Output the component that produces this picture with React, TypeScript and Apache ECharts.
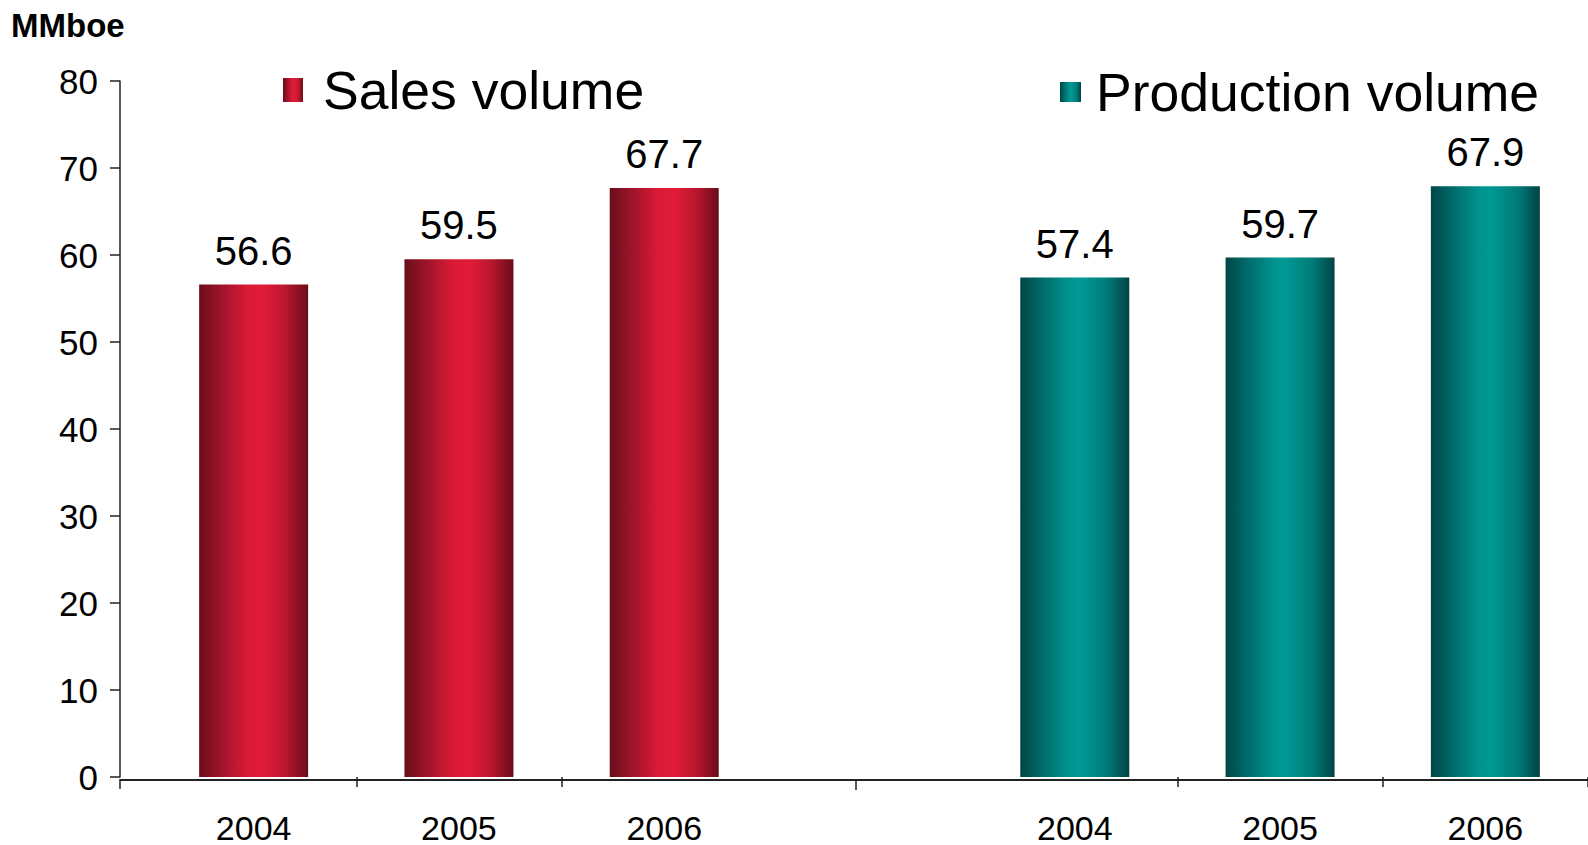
import React, { useEffect, useRef } from 'react';
import * as echarts from 'echarts';

const categories = ['2004', '2005', '2006', '', '2004', '2005', '2006'];
const salesVolume = [56.6, 59.5, 67.7, '-', '-', '-', '-'];
const productionVolume = ['-', '-', '-', '-', 57.4, 59.7, 67.9];
const seriesNames = ['Sales volume', 'Production volume'];
const unitLabel = 'MMboe';
const yMin = 0;
const yMax = 80;
const yStep = 10;

const FONT = '"Liberation Sans", Arial, Helvetica, sans-serif';

const redGradient = new echarts.graphic.LinearGradient(0, 0, 1, 0, [
  { offset: 0, color: '#6a0d1b' },
  { offset: 0.2, color: '#9c1429' },
  { offset: 0.45, color: '#dc1a36' },
  { offset: 0.6, color: '#e01b37' },
  { offset: 0.8, color: '#b8162e' },
  { offset: 1, color: '#680c19' },
]);

const tealGradient = new echarts.graphic.LinearGradient(0, 0, 1, 0, [
  { offset: 0, color: '#004646' },
  { offset: 0.2, color: '#006b6a' },
  { offset: 0.45, color: '#009490' },
  { offset: 0.55, color: '#009995' },
  { offset: 0.8, color: '#007a77' },
  { offset: 1, color: '#004343' },
]);

export default function App() {
  const ref = useRef<HTMLDivElement>(null);

  useEffect(() => {
    if (!ref.current) return;
    const chart = echarts.init(ref.current, null, { renderer: 'svg' });
    const labelStyle = {
      show: true,
      position: 'top',
      distance: 14,
      fontSize: 40,
      color: '#000',
      fontFamily: FONT,
    };
    chart.setOption({
      animation: false,
      backgroundColor: '#fff',
      title: {
        text: unitLabel,
        left: 11,
        top: 9,
        padding: 0,
        textStyle: { fontSize: 33, fontWeight: 'bold', color: '#000', fontFamily: FONT },
      },
      legend: [
        {
          data: [seriesNames[0]],
          left: 283,
          top: 63,
          padding: 0,
          icon: 'rect',
          itemWidth: 20,
          itemHeight: 24,
          textStyle: { fontSize: 53.5, color: '#000', fontFamily: FONT, padding: [0, 0, 0, 15] },
        },
        {
          data: [seriesNames[1]],
          left: 1060,
          top: 65,
          padding: 0,
          icon: 'rect',
          itemWidth: 21,
          itemHeight: 20,
          textStyle: { fontSize: 53.5, color: '#000', fontFamily: FONT, padding: [0, 0, 0, 10] },
        },
      ],
      grid: {
        left: 151,
        top: 81,
        width: 1443,
        bottom: 65,
        containLabel: false,
      },
      xAxis: {
        type: 'category',
        data: categories,
        boundaryGap: true,
        axisLine: { show: false },
        axisTick: {
          show: true,
          inside: false,
          length: 10,
          interval: (index: number) => index === 1 || index === 2 || index === 5 || index === 6,
          lineStyle: { color: '#222', width: 1.5 },
        },
        axisLabel: {
          interval: 0,
          fontSize: 34,
          color: '#000',
          fontFamily: FONT,
          margin: 34,
        },
        splitLine: { show: false },
      },
      yAxis: {
        type: 'value',
        min: yMin,
        max: yMax,
        interval: yStep,
        offset: 31,
        axisLine: { show: true, lineStyle: { color: '#222', width: 1.5 } },
        axisTick: { show: true, inside: false, length: 10, lineStyle: { color: '#222', width: 1.5 } },
        axisLabel: { fontSize: 35, color: '#000', fontFamily: FONT, margin: 22 },
        splitLine: { show: false },
      },
      graphic: [
        {
          type: 'line',
          z: 10,
          shape: { x1: 120, y1: 780, x2: 1588, y2: 780 },
          style: { stroke: '#222', lineWidth: 2 },
        },
        {
          type: 'line',
          shape: { x1: 120, y1: 779, x2: 120, y2: 789 },
          style: { stroke: '#222', lineWidth: 1.5 },
        },
        {
          type: 'line',
          shape: { x1: 856, y1: 780, x2: 856, y2: 790 },
          style: { stroke: '#222', lineWidth: 1.5 },
        },
      ],
      series: [
        {
          name: seriesNames[0],
          type: 'bar',
          data: salesVolume,
          barWidth: 109,
          barGap: '-100%',
          itemStyle: { color: redGradient },
          label: labelStyle,
        },
        {
          name: seriesNames[1],
          type: 'bar',
          data: productionVolume,
          barWidth: 109,
          barGap: '-100%',
          itemStyle: { color: tealGradient },
          label: labelStyle,
        },
      ],
    });
    return () => chart.dispose();
  }, []);

  return (
    <div
      ref={ref}
      style={{ position: 'fixed', left: 0, top: 0, width: 1588, height: 845, background: '#fff' }}
    />
  );
}
